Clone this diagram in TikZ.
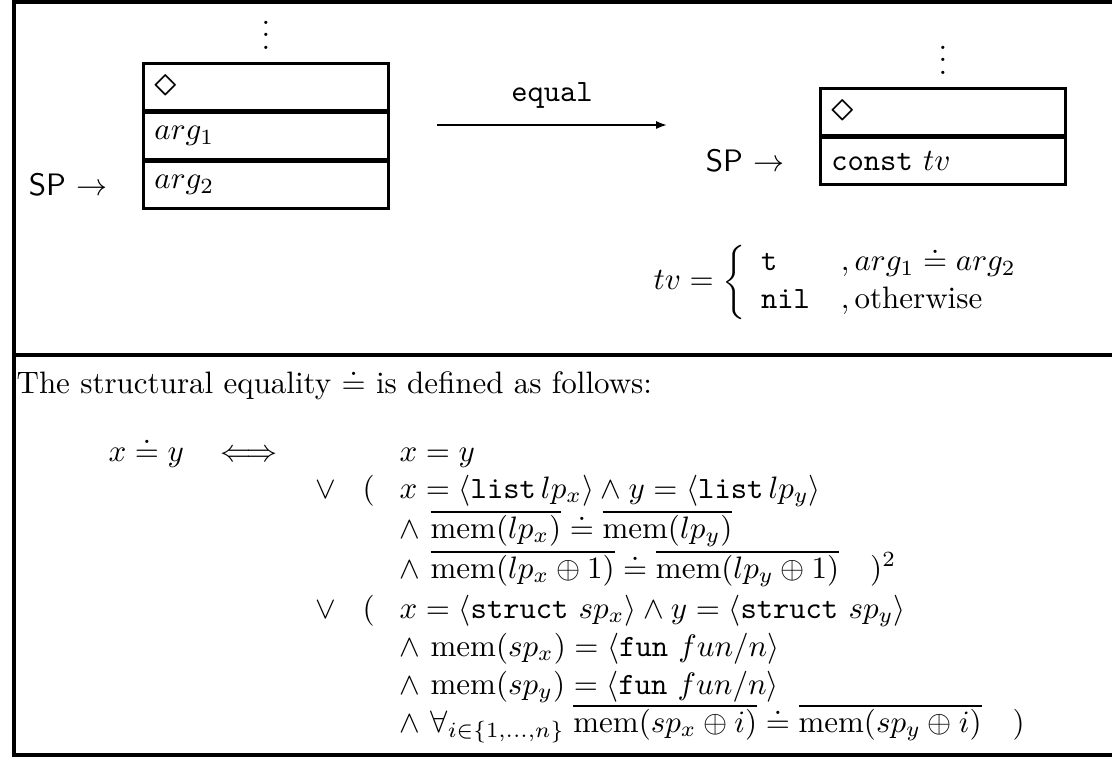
\documentclass[tikz,border=0pt]{standalone}
\usepackage{amsmath}
\usepackage{amssymb}
\usepackage{graphicx}
\usetikzlibrary{arrows.meta, positioning}

\newcommand{\ovl}[1]{\vbox{\hrule height 0.8pt\kern 0.5pt\hbox{$#1$}}}
\newcommand{\dmd}{\scalebox{1.45}{$\diamond$}}

\begin{document}
\begin{tikzpicture}[
    x=0.3226pt, y=-0.3226pt,
    every node/.style={inner sep=0pt},
    cell/.style={
        draw, line width=0.9pt, outer sep=0.45pt,
        text width=72pt, inner xsep=3.55pt, inner ysep=0pt,
        minimum height=15pt, align=left
    },
    frame-line/.style={line width=1.2pt},
    map-arrow/.style={-{Latex[length=3.5pt, width=2.6pt]}, line width=0.6pt},
    row/.style={anchor=base west}
]
    % Picture size: 1 unit = 1 px of the reference.
    \useasboundingbox (0,0) rectangle (1112,758);

    % Frame and divider.
    \draw[frame-line] (1112,2) -- (14,2) -- (14,755) -- (1112,755);
    \draw[frame-line] (14,355) -- (1112,355);

    % Stack before the step.
    \node[cell, anchor=north west] (lDiam) at (142,62) {\dmd};
    \node[cell, below=0pt of lDiam] (lArgA) {$arg_1$};
    \node[cell, below=0pt of lArgA] (lArgB) {$arg_2$};
    \node[above=3.9pt of lDiam] (lDots) {$\vdots$};
    \node[left=11pt of lArgB] (lSP) {\textsf{SP} $\rightarrow$};

    % The step itself.
    \coordinate (eqFrom) at (437,125);
    \coordinate (eqTo) at (667,125);
    \draw[map-arrow] (eqFrom) -- node[above=5pt] (eqLbl) {\texttt{equal}} (eqTo);

    % Stack after the step.
    \node[cell, anchor=north west] (rDiam) at (819,87) {\dmd};
    \node[cell, below=0pt of rDiam] (rConst) {\texttt{const} $tv$};
    \node[above=3.9pt of rDiam] (rDots) {$\vdots$};
    \node[left=11pt of rConst] (rSP) {\textsf{SP} $\rightarrow$};

    \node[anchor=west] (tvCase) at (653,282) {$tv = \left\{\begin{array}{ll}
        \texttt{t} & ,arg_1 \doteq arg_2\\
        \texttt{nil} & ,\text{otherwise}
    \end{array}\right.$};

    % Definition of structural equality.
    \node[row] (intro) at (16,393) {The structural equality $\doteq$ is defined as follows:};
    \node[row] (lhs) at (108,461) {$x \doteq y$};
    \node[row] (iff) at (220,461) {$\Longleftrightarrow$};
    \node[row] (r0) at (399,461) {$x = y$};
    \node[row] (orA) at (315,498) {$\vee$};
    \node[row] (parA) at (362,498) {$($};
    \node[row] (r1) at (399,498) {$x = \langle\texttt{list}\,lp_x\rangle \wedge y = \langle\texttt{list}\,lp_y\rangle$};
    \node[row] (r2) at (399,538) {$\wedge\ \ovl{\mathrm{mem}(lp_x)} \doteq \ovl{\mathrm{mem}(lp_y)}$};
    \node[row] (r3) at (399,578) {$\wedge\ \ovl{\mathrm{mem}(lp_x \oplus 1)} \doteq \ovl{\mathrm{mem}(lp_y \oplus 1)} \quad )^2$};
    \node[row] (orB) at (315,618) {$\vee$};
    \node[row] (parB) at (362,618) {$($};
    \node[row] (r4) at (399,618) {$x = \langle\texttt{struct}\ sp_x\rangle \wedge y = \langle\texttt{struct}\ sp_y\rangle$};
    \node[row] (r5) at (399,656) {$\wedge\ \mathrm{mem}(sp_x) = \langle\texttt{fun}\ fun/n\rangle$};
    \node[row] (r6) at (399,694) {$\wedge\ \mathrm{mem}(sp_y) = \langle\texttt{fun}\ fun/n\rangle$};
    \node[row] (r7) at (399,732) {$\wedge\ \forall_{i\in\{1,\ldots,n\}}\; \ovl{\mathrm{mem}(sp_x \oplus i)} \doteq \ovl{\mathrm{mem}(sp_y \oplus i)} \quad )$};
\end{tikzpicture}
\end{document}
